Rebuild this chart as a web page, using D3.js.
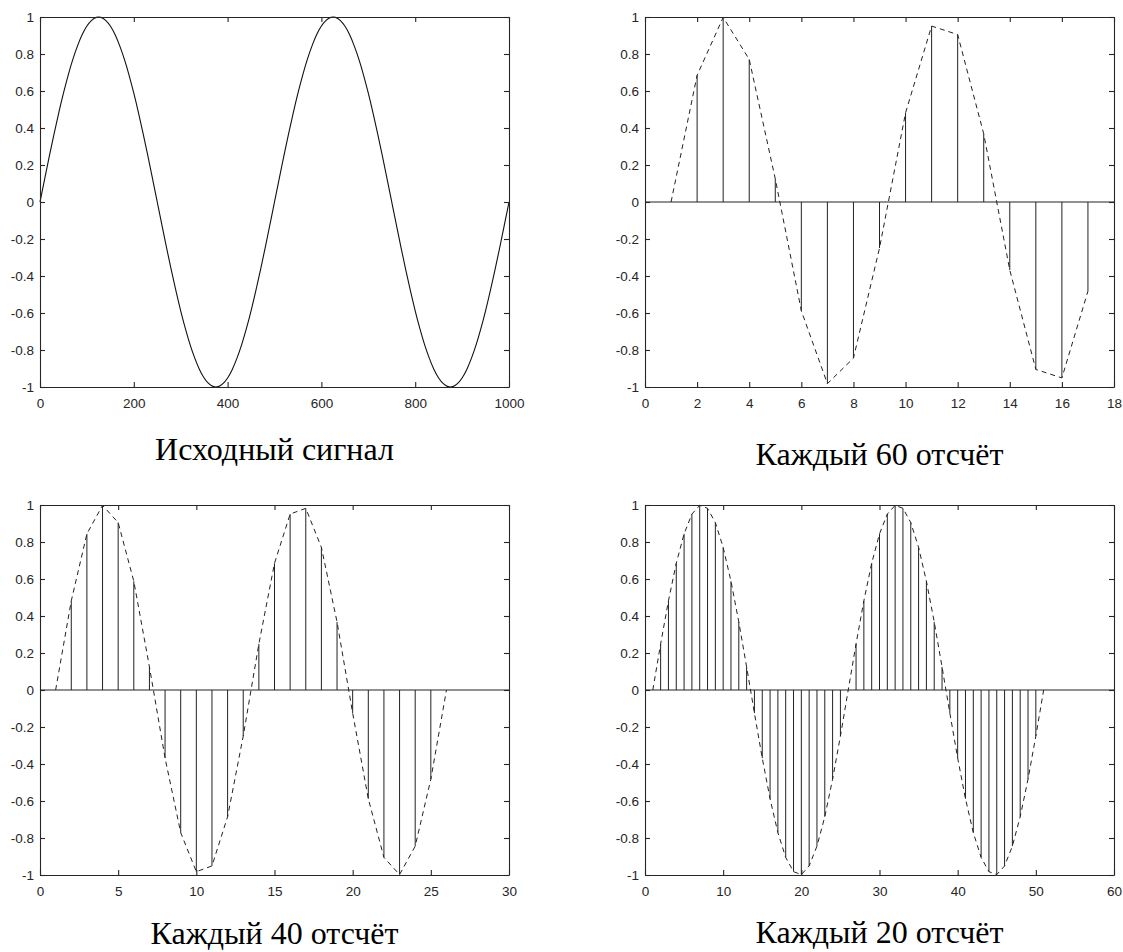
<!DOCTYPE html>
<html>
<head>
<meta charset="utf-8">
<script src="https://cdn.jsdelivr.net/npm/d3@7"></script>
<style>
    body { margin: 0; background: #fff; }
</style>
</head>
<body>
<div id="root"></div>
<script>
// original signal, one value every 10 samples (0..1000)
var signal = [
    0, 0.125, 0.249, 0.368, 0.482, 0.588, 0.685, 0.771, 0.844, 0.905,
    0.951, 0.982, 0.998, 0.998, 0.982, 0.951, 0.905, 0.844, 0.771, 0.685,
    0.588, 0.482, 0.368, 0.249, 0.125, 0, -0.125, -0.249, -0.368, -0.482,
    -0.588, -0.685, -0.771, -0.844, -0.905, -0.951, -0.982, -0.998, -0.998, -0.982,
    -0.951, -0.905, -0.844, -0.771, -0.685, -0.588, -0.482, -0.368, -0.249, -0.125,
    0, 0.125, 0.249, 0.368, 0.482, 0.588, 0.685, 0.771, 0.844, 0.905,
    0.951, 0.982, 0.998, 0.998, 0.982, 0.951, 0.905, 0.844, 0.771, 0.685,
    0.588, 0.482, 0.368, 0.249, 0.125, 0, -0.125, -0.249, -0.368, -0.482,
    -0.588, -0.685, -0.771, -0.844, -0.905, -0.951, -0.982, -0.998, -0.998, -0.982,
    -0.951, -0.905, -0.844, -0.771, -0.685, -0.588, -0.482, -0.368, -0.249, -0.125,
    0
];

// every 60th sample
var every60 = [
    0, 0.685, 0.998, 0.771, 0.125, -0.588, -0.982, -0.844, -0.249,
    0.482, 0.951, 0.905, 0.368, -0.368, -0.905, -0.951, -0.482
];

// every 40th sample
var every40 = [
    0, 0.482, 0.844, 0.998, 0.905, 0.588, 0.125, -0.368, -0.771, -0.982,
    -0.951, -0.685, -0.249, 0.249, 0.685, 0.951, 0.982, 0.771, 0.368, -0.125,
    -0.588, -0.905, -0.998, -0.844, -0.482, 0
];

// every 20th sample
var every20 = [
    0, 0.249, 0.482, 0.685, 0.844, 0.951, 0.998, 0.982, 0.905, 0.771,
    0.588, 0.368, 0.125, -0.125, -0.368, -0.588, -0.771, -0.905, -0.982, -0.998,
    -0.951, -0.844, -0.685, -0.482, -0.249, 0, 0.249, 0.482, 0.685, 0.844,
    0.951, 0.998, 0.982, 0.905, 0.771, 0.588, 0.368, 0.125, -0.125, -0.368,
    -0.588, -0.771, -0.905, -0.982, -0.998, -0.951, -0.844, -0.685, -0.482, -0.249,
    0
];

var yTicks = [-1, -0.8, -0.6, -0.4, -0.2, 0, 0.2, 0.4, 0.6, 0.8, 1];
var yTickLabels = ["-1", "-0.8", "-0.6", "-0.4", "-0.2", "0", "0.2", "0.4", "0.6", "0.8", "1"];

var xTicks1 = [0, 200, 400, 600, 800, 1000];
var xTicks2 = [0, 2, 4, 6, 8, 10, 12, 14, 16, 18];
var xTicks3 = [0, 5, 10, 15, 20, 25, 30];
var xTicks4 = [0, 10, 20, 30, 40, 50, 60];

var titles = ["Исходный сигнал", "Каждый 60 отсчёт", "Каждый 40 отсчёт", "Каждый 20 отсчёт"];

var svg = d3
    .select("#root")
    .append("svg")
    .attr("width", 1123)
    .attr("height", 952)
    .style("display", "block");

svg.append("rect")
    .attr("width", 1123)
    .attr("height", 952)
    .attr("fill", "#fff");

function drawPanel(box, xTicks, title, titleY, drawData) {
    var x = d3
        .scaleLinear()
        .domain([xTicks[0], xTicks[xTicks.length - 1]])
        .range([box.left, box.right]);
    var y = d3.scaleLinear().domain([-1, 1]).range([box.bottom, box.top]);

    var g = svg.append("g");

    drawData(g, x, y);

    // box with inward ticks on all four sides
    g.append("g")
        .attr("transform", "translate(0," + box.bottom + ")")
        .call(d3.axisBottom(x).tickValues(xTicks).tickSize(-5).tickSizeOuter(0).tickPadding(11).tickFormat((d) => String(d)));
    g.append("g")
        .attr("transform", "translate(0," + box.top + ")")
        .call(d3.axisTop(x).tickValues(xTicks).tickSize(-5).tickSizeOuter(0).tickFormat(""));
    g.append("g")
        .attr("transform", "translate(" + box.left + ",0)")
        .call(d3.axisLeft(y).tickValues(yTicks).tickSize(-5).tickSizeOuter(0).tickPadding(6)
            .tickFormat((d, i) => yTickLabels[i]));
    g.append("g")
        .attr("transform", "translate(" + box.right + ",0)")
        .call(d3.axisRight(y).tickValues(yTicks).tickSize(-5).tickSizeOuter(0).tickFormat(""));

    g.selectAll(".domain, .tick line").attr("stroke", "#262626").attr("stroke-width", 1.1);
    g.selectAll(".tick text")
        .attr("fill", "#262626")
        .style("font-family", "'Liberation Sans', Arial, sans-serif")
        .style("font-size", "13.5px");

    svg.append("text")
        .attr("x", (box.left + box.right) / 2)
        .attr("y", titleY)
        .attr("text-anchor", "middle")
        .style("font-family", "'Liberation Serif', 'Times New Roman', serif")
        .style("font-size", "32px")
        .attr("fill", "#000")
        .text(title);
}

// stem plot: baseline, stems and dashed envelope
function stems(values) {
    return function (g, x, y) {
        var xr = x.range();
        g.append("line")
            .attr("x1", xr[0]).attr("x2", xr[1])
            .attr("y1", y(0)).attr("y2", y(0))
            .attr("stroke", "#222").attr("stroke-width", 1);
        g.selectAll(".stem")
            .data(values)
            .enter()
            .append("line")
            .attr("class", "stem")
            .attr("x1", (d, i) => x(i + 1)).attr("x2", (d, i) => x(i + 1))
            .attr("y1", y(0)).attr("y2", (d) => y(d))
            .attr("stroke", "#222").attr("stroke-width", 1);
        g.append("path")
            .datum(values)
            .attr("fill", "none")
            .attr("stroke", "#222")
            .attr("stroke-width", 1)
            .attr("stroke-dasharray", "5,4")
            .attr("d", d3.line().x((d, i) => x(i + 1)).y((d) => y(d)));
    };
}

drawPanel({ left: 40, right: 509, top: 17, bottom: 387 }, xTicks1, titles[0], 460, function (g, x, y) {
    g.append("path")
        .datum(signal)
        .attr("fill", "none")
        .attr("stroke", "#111")
        .attr("stroke-width", 1.1)
        .attr("d", d3.line().curve(d3.curveNatural).x((d, i) => x(i * 10)).y((d) => y(d)));
});
drawPanel({ left: 645, right: 1114, top: 17, bottom: 387 }, xTicks2, titles[1], 465, stems(every60));
drawPanel({ left: 40, right: 509, top: 505, bottom: 875 }, xTicks3, titles[2], 944, stems(every40));
drawPanel({ left: 645, right: 1114, top: 505, bottom: 875 }, xTicks4, titles[3], 943, stems(every20));
</script>
</body>
</html>
